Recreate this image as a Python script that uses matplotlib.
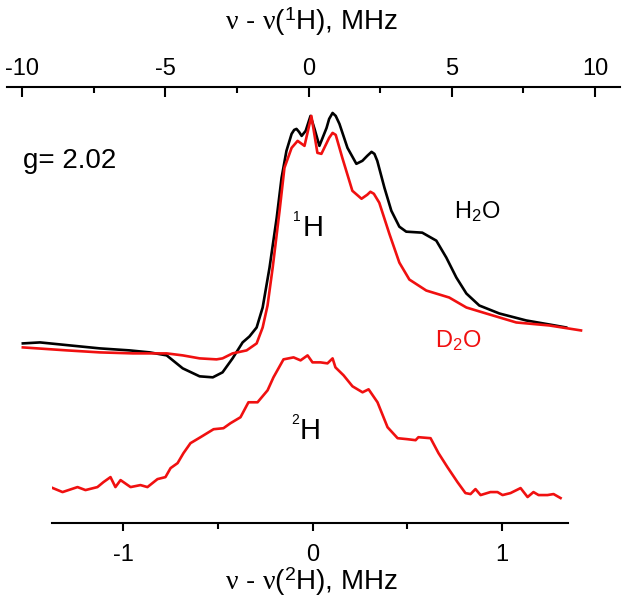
import numpy as np
import matplotlib.pyplot as plt

plt.rcParams['font.family'] = ['Liberation Sans', 'DejaVu Sans']
plt.rcParams['mathtext.fontset'] = 'custom'
plt.rcParams['mathtext.rm'] = 'Liberation Sans'
plt.rcParams['mathtext.it'] = 'Liberation Serif'
plt.rcParams['axes.unicode_minus'] = False

# ENDOR spectra, top axis: nu - nu(1H) in MHz
h2o_x = [-9.97, -9.37, -8.33, -7.28, -6.24, -5.54, -4.95, -4.39, -3.80, -3.34,
         -3.00, -2.65, -2.30, -2.06, -1.81, -1.60, -1.36, -1.11, -0.94, -0.77,
         -0.59, -0.50, -0.42, -0.33, -0.24, -0.10, 0.07, 0.21, 0.38, 0.63,
         0.72, 0.84, 0.95, 1.08, 1.36, 1.67, 1.88, 2.05, 2.20, 2.30,
         2.40, 2.65, 2.89, 3.17, 3.41, 3.97, 4.46, 4.81, 5.16, 5.51,
         5.96, 6.66, 7.60, 8.40, 8.99]
h2o_y = [180, 181, 178, 175, 173, 171, 168, 155, 147, 146,
         151, 165, 181, 187, 196, 216, 256, 306, 346, 373,
         390, 394, 395, 392, 388, 393, 408, 395, 378, 396,
         405, 411, 408, 400, 376, 360, 363, 368, 372, 370,
         363, 336, 313, 297, 292, 291, 283, 266, 246, 230,
         218, 210, 203, 199, 196]

d2o_x = [-9.97, -8.43, -7.28, -6.13, -4.95, -4.39, -3.80, -3.21, -3.00, -2.65,
         -2.16, -1.81, -1.60, -1.43, -1.25, -1.01, -0.84, -0.59, -0.38, -0.14,
         0.10, 0.31, 0.45, 0.72, 0.84, 0.95, 1.18, 1.53, 1.85, 2.05,
         2.16, 2.28, 2.47, 2.82, 3.17, 3.52, 4.11, 4.91, 5.51, 6.20,
         7.25, 8.40, 9.51]
d2o_y = [176, 173, 171, 170, 170, 168, 165, 164, 165, 170,
         173, 180, 196, 218, 256, 313, 356, 376, 383, 378,
         408, 371, 370, 386, 391, 389, 366, 333, 325, 329,
         332, 330, 321, 290, 261, 244, 233, 226, 216, 210,
         201, 198, 193]

# bottom axis: nu - nu(2H) in MHz
h2_x = [-1.414, -1.383, -1.319, -1.240, -1.198, -1.135, -1.103, -1.066, -1.040, -1.013,
        -0.960, -0.908, -0.871, -0.818, -0.776, -0.749, -0.712, -0.681, -0.644, -0.591,
        -0.522, -0.470, -0.433, -0.380, -0.338, -0.290, -0.237, -0.206, -0.153, -0.100,
        -0.063, -0.026, 0.000, 0.042, 0.079, 0.106, 0.121, 0.164, 0.211, 0.264,
        0.296, 0.343, 0.396, 0.449, 0.501, 0.544, 0.559, 0.623, 0.665, 0.712,
        0.765, 0.807, 0.834, 0.860, 0.887, 0.939, 0.976, 1.003, 1.045, 1.098,
        1.135, 1.166, 1.193, 1.240, 1.272, 1.309]
h2_y = [29, 36, 31, 36, 33, 36, 41, 46, 36, 43,
        36, 38, 36, 44, 46, 55, 60, 70, 80, 86,
        94, 95, 100, 106, 121, 121, 133, 146, 164, 166,
        163, 168, 161, 161, 160, 165, 156, 148, 137, 131,
        134, 121, 96, 85, 84, 83, 86, 85, 70, 56,
        41, 30, 29, 34, 28, 31, 31, 28, 30, 35,
        26, 31, 28, 28, 29, 25]

W, H = 626, 605
red = '#f01010'
fig = plt.figure(figsize=(W / 100, H / 100), dpi=100)

def px(x, y):
    return x / W, 1 - y / H

y_top, y_bot = 87, 523
ax_top = fig.add_axes([7 / W, 1 - y_bot / H, (620 - 7) / W, (y_bot - y_top) / H])
ax_bot = fig.add_axes([52 / W, 1 - y_bot / H, (568 - 52) / W, (y_bot - y_top) / H])
ax_bot.patch.set_alpha(0)

ax_top.plot(h2o_x, h2o_y, color='black', lw=1.9, solid_joinstyle='round')
ax_top.plot(d2o_x, d2o_y, color=red, lw=1.9, solid_joinstyle='round')
ax_bot.plot(h2_x, h2_y, color=red, lw=1.9, solid_joinstyle='round')

ax_top.set_xlim(-10 - 15 / 28.7, 10 + 25 / 28.7)
ax_bot.set_xlim(-1 - 71 / 189.5, 1 + 66 / 189.5)
for ax in (ax_top, ax_bot):
    ax.set_ylim(0, 523 - 86)
    ax.set_yticks([])
    for s in ax.spines.values():
        s.set_visible(False)

ax_top.spines['top'].set_visible(True)
ax_top.spines['top'].set_linewidth(1.5)
ax_top.xaxis.tick_top()
ax_top.set_xticks([-10, -5, 0, 5, 10])
ax_top.set_xticks([-7.5, -2.5, 2.5, 7.5], minor=True)
ax_top.tick_params(axis='x', which='major', direction='in', length=7, width=1.5,
                   labelsize=17, pad=5)
ax_top.tick_params(axis='x', which='minor', direction='in', length=4.5, width=1.5)

ax_bot.spines['bottom'].set_visible(True)
ax_bot.spines['bottom'].set_linewidth(1.5)
ax_bot.set_xticks([-1, 0, 1])
ax_bot.set_xticks([-0.5, 0.5], minor=True)
ax_bot.tick_params(axis='x', which='major', direction='out', length=6, width=1.5,
                   labelsize=17, pad=9)
ax_bot.tick_params(axis='x', which='minor', direction='out', length=4, width=1.5)

fig.text(*px(312, 22), r'$\nu$ - $\nu$($^1$H), MHz', fontsize=20, ha='center', va='center')
fig.text(*px(312, 582), r'$\nu$ - $\nu$($^2$H), MHz', fontsize=20, ha='center', va='center')
fig.text(*px(23, 161), 'g= 2.02', fontsize=20, ha='left', va='center')

# 1H and 2H labels with small raised digits
fig.text(*px(303, 236), 'H', fontsize=21, ha='left', va='baseline')
fig.text(*px(301, 210), '1', fontsize=10, ha='right', va='top')
fig.text(*px(300, 439), 'H', fontsize=21, ha='left', va='baseline')
fig.text(*px(299, 413), '2', fontsize=10, ha='right', va='top')

fig.text(*px(477, 212), r'H$_2$O', fontsize=17, ha='center', va='center')
fig.text(*px(458, 341), r'D$_2$O', fontsize=17, ha='center', va='center', color=red)

fig.savefig('out.png', dpi=100)
